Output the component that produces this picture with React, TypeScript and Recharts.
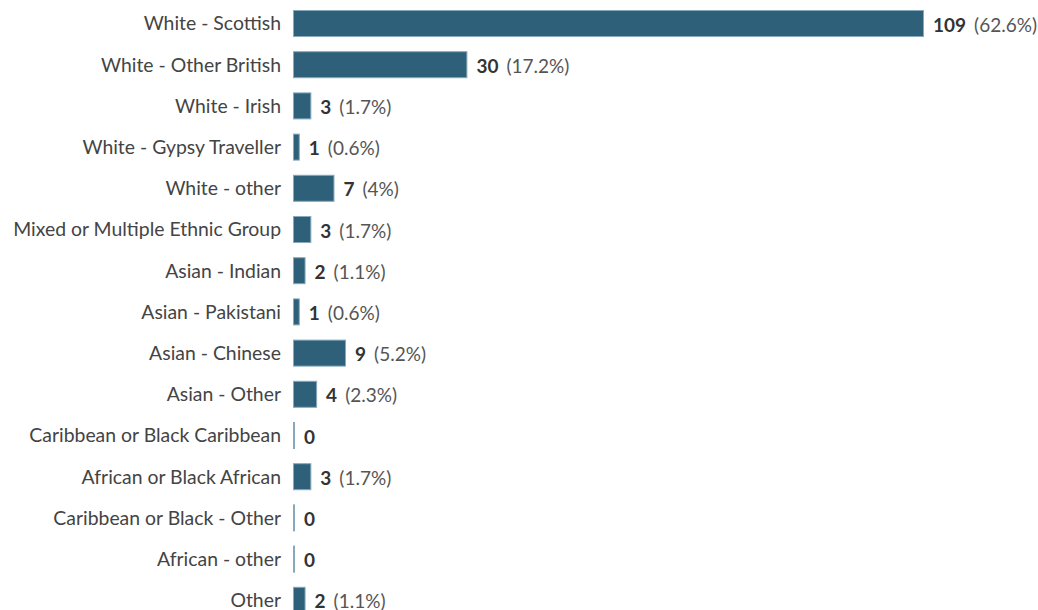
import { Bar, BarChart, LabelList, XAxis, YAxis } from "recharts";

const categories = [
  "White - Scottish",
  "White - Other British",
  "White - Irish",
  "White - Gypsy Traveller",
  "White - other",
  "Mixed or Multiple Ethnic Group",
  "Asian - Indian",
  "Asian - Pakistani",
  "Asian - Chinese",
  "Asian - Other",
  "Caribbean or Black Caribbean",
  "African or Black African",
  "Caribbean or Black - Other",
  "African - other",
  "Other",
];

const counts = [109, 30, 3, 1, 7, 3, 2, 1, 9, 4, 0, 3, 0, 0, 2];

const total = counts.reduce((a, b) => a + b, 0);

const data = categories.map((name, i) => ({ name, value: counts[i] }));

const FONT = "Lato, 'Open Sans', sans-serif";

function BarShape(props: any) {
  const { x, y, width, height } = props;
  const w = Math.max(width, 1);
  return (
    <rect
      x={x + 0.5}
      y={y + 0.5}
      width={w}
      height={height - 1}
      fill="#2e6079"
      stroke="#86a9bb"
      strokeWidth={1}
    />
  );
}

function ValueLabel(props: any) {
  const { x, y, width, height, value } = props;
  const pct = Math.round((value / total) * 1000) / 10;
  return (
    <text
      x={x + Math.max(width, 1) + 10}
      y={y + height / 2}
      dominantBaseline="central"
      fontFamily={FONT}
      fontSize={19}
    >
      <tspan fontWeight={700} fill="#333">
        {value}
      </tspan>
      {value > 0 && (
        <tspan fill="#555" dx={8}>
          ({pct}%)
        </tspan>
      )}
    </text>
  );
}

export default function App() {
  return (
    <div
      style={{
        position: "fixed",
        top: 0,
        left: 0,
        width: 1038,
        height: 610,
        overflow: "hidden",
        background: "#fff",
      }}
    >
      <BarChart
        width={1038}
        height={621}
        data={data}
        layout="vertical"
        margin={{ top: 3, right: 115, bottom: 0, left: 0 }}
        barSize={27}
      >
        <XAxis type="number" domain={[0, 109]} hide />
        <YAxis
          type="category"
          dataKey="name"
          width={293}
          axisLine={false}
          tickLine={false}
          tickSize={0}
          tickMargin={12}
          interval={0}
          tick={{ fill: "#444", fontSize: 19.4, fontFamily: FONT }}
        />
        <Bar dataKey="value" shape={<BarShape />} isAnimationActive={false}>
          <LabelList dataKey="value" content={<ValueLabel />} />
        </Bar>
      </BarChart>
    </div>
  );
}
